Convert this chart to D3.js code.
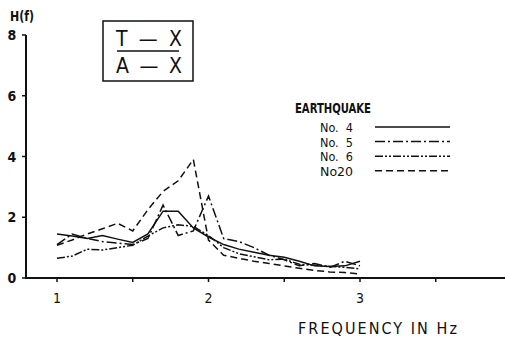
<!DOCTYPE html>
<html>
<head>
<meta charset="utf-8">
<script src="https://cdn.jsdelivr.net/npm/d3@7"></script>
<style>
  body { margin: 0; background: #fff; }
  text { font-family: "Liberation Sans Narrow", "DejaVu Sans Condensed", sans-serif; fill: #111; }
</style>
</head>
<body>
<div id="chart"></div>
<script>
// frequencies sampled every 0.1 Hz
var freq = [1.0, 1.1, 1.2, 1.3, 1.4, 1.5, 1.6, 1.7, 1.8, 1.9, 2.0,
            2.1, 2.2, 2.3, 2.4, 2.5, 2.6, 2.7, 2.8, 2.9, 3.0];

var eq4  = [1.45, 1.38, 1.30, 1.40, 1.28, 1.17, 1.45, 2.20, 2.20, 1.65, 1.35,
            1.10, 0.95, 0.85, 0.75, 0.68, 0.55, 0.40, 0.38, 0.40, 0.55];
var eq5  = [1.10, 1.45, 1.30, 1.20, 1.15, 1.10, 1.30, 2.40, 1.40, 1.55, 2.70,
            1.30, 1.20, 1.00, 0.75, 0.60, 0.40, 0.48, 0.35, 0.55, 0.40];
var eq6  = [0.65, 0.72, 0.95, 0.92, 1.00, 1.08, 1.38, 1.65, 1.75, 1.70, 1.40,
            1.00, 0.80, 0.70, 0.60, 0.62, 0.45, 0.42, 0.38, 0.35, 0.30];
var eq20 = [1.08, 1.25, 1.45, 1.62, 1.80, 1.55, 2.25, 2.85, 3.20, 3.90, 1.25,
            0.75, 0.65, 0.55, 0.48, 0.40, 0.32, 0.25, 0.20, 0.18, 0.13];

var seriesNames = ["No.  4", "No.  5", "No.  6", "No20"];
var yTicks = [0, 2, 4, 6, 8];
var xLabels = [1, 2, 3];
var xMinor = [1, 1.5, 2, 2.5, 3, 3.5];

var width = 505, height = 339;

var svg = d3.select("#chart")
    .append("svg")
    .attr("width", width)
    .attr("height", height);

var x = d3.scaleLinear().domain([1, 3]).range([57, 360]);
var y = d3.scaleLinear().domain([0, 8]).range([278, 35]);

// dash styles per series
var dashes = [null, "10,3,2,3", "8,2,2,2,2,2", "7,4"];
var allSeries = [eq4, eq5, eq6, eq20];

// axes
svg.append("line")
    .attr("x1", 26).attr("x2", 26)
    .attr("y1", y(8)).attr("y2", y(0))
    .attr("stroke", "#111").attr("stroke-width", 2);
svg.append("line")
    .attr("x1", 25).attr("x2", 505)
    .attr("y1", y(0)).attr("y2", y(0))
    .attr("stroke", "#111").attr("stroke-width", 2);

svg.selectAll(".ytick")
    .data(yTicks)
    .enter()
    .append("line")
    .attr("x1", 22).attr("x2", 26)
    .attr("y1", d => y(d)).attr("y2", d => y(d))
    .attr("stroke", "#111").attr("stroke-width", 1.5);

svg.selectAll(".ylab")
    .data(yTicks)
    .enter()
    .append("text")
    .attr("x", 12)
    .attr("y", d => y(d) + 5)
    .attr("text-anchor", "middle")
    .style("font-size", "14px")
    .style("font-weight", "bold")
    .text(d => d);

svg.append("text")
    .attr("x", 10).attr("y", 21)
    .attr("textLength", 24)
    .attr("lengthAdjust", "spacingAndGlyphs")
    .style("font-size", "14px")
    .style("font-weight", "bold")
    .text("H(f)");

svg.selectAll(".xtick")
    .data(xMinor)
    .enter()
    .append("line")
    .attr("x1", d => x(d)).attr("x2", d => x(d))
    .attr("y1", y(0)).attr("y2", y(0) + 4)
    .attr("stroke", "#111").attr("stroke-width", 1.5);

svg.selectAll(".xlab")
    .data(xLabels)
    .enter()
    .append("text")
    .attr("x", d => x(d))
    .attr("y", 303)
    .attr("text-anchor", "middle")
    .style("font-size", "14px")
    .text(d => d);

svg.append("text")
    .attr("x", 298).attr("y", 334)
    .attr("textLength", 160)
    .style("font-size", "16px")
    .style("letter-spacing", "1px")
    .text("FREQUENCY  IN  Hz");

// the T-X / A-X box
svg.append("rect")
    .attr("x", 103).attr("y", 21)
    .attr("width", 90).attr("height", 60)
    .attr("fill", "none").attr("stroke", "#111").attr("stroke-width", 1.5);
svg.append("line")
    .attr("x1", 117).attr("x2", 179)
    .attr("y1", 51).attr("y2", 51)
    .attr("stroke", "#111").attr("stroke-width", 1.5);
svg.append("text")
    .attr("x", 116).attr("y", 46)
    .attr("textLength", 66)
    .style("font-size", "21px")
    .text("T — X");
svg.append("text")
    .attr("x", 116).attr("y", 73)
    .attr("textLength", 66)
    .style("font-size", "21px")
    .text("A — X");

// curves
var line = d3.line()
    .x((d, i) => x(freq[i]))
    .y(d => y(d));

svg.append("g")
    .selectAll("path")
    .data(allSeries)
    .enter()
    .append("path")
    .attr("d", d => line(d))
    .attr("fill", "none")
    .attr("stroke", "#111")
    .attr("stroke-width", 1.5)
    .attr("stroke-dasharray", (d, i) => dashes[i]);

// legend
svg.append("text")
    .attr("x", 295).attr("y", 113)
    .attr("textLength", 76)
    .attr("lengthAdjust", "spacingAndGlyphs")
    .style("font-size", "14px")
    .style("font-weight", "bold")
    .text("EARTHQUAKE");

var leg = svg.append("g")
    .selectAll("g")
    .data(seriesNames)
    .enter()
    .append("g")
    .attr("transform", (d, i) => "translate(0," + (127 + i * 14.6) + ")");

leg.append("text")
    .attr("x", 320).attr("y", 5)
    .attr("textLength", 33)
    .attr("lengthAdjust", "spacingAndGlyphs")
    .style("font-size", "13px")
    .attr("xml:space", "preserve")
    .text(d => d);

leg.append("line")
    .attr("x1", 375).attr("x2", 450)
    .attr("y1", 0).attr("y2", 0)
    .attr("stroke", "#111")
    .attr("stroke-width", 1.5)
    .attr("stroke-dasharray", (d, i) => dashes[i]);
</script>
</body>
</html>
